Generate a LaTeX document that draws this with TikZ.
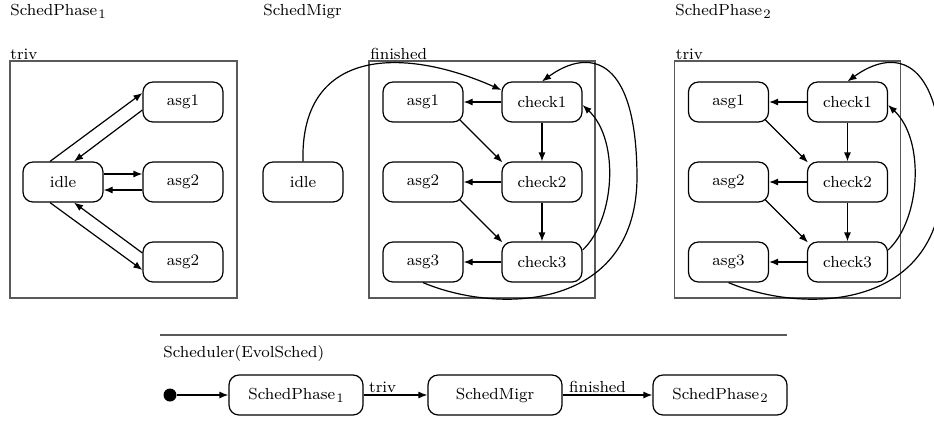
\documentclass[tikz,border=0pt]{standalone}
\usetikzlibrary{arrows.meta}
\newcommand\mysubidx[1]{\hspace{0.6pt}\raisebox{-1.6pt}{\fontsize{6.5}{7}\selectfont #1}}
\tikzset{
  st/.style={draw, rounded corners=5pt, minimum width=40pt, minimum height=20pt, line width=0.6pt, font=\fontsize{8}{9.6}\selectfont, inner sep=0pt},
  wst/.style={st, minimum width=67pt},
  arr/.style={-{Latex[length=4.5pt,width=3.5pt]}, line width=0.6pt},
  frm/.style={draw=black!65, line width=0.9pt},
  txt/.style={font=\fontsize{8}{9.6}\selectfont, inner sep=0pt, anchor=base west},
}
\begin{document}
\begin{tikzpicture}[x=0.5pt,y=-0.5pt]
\useasboundingbox (0,0) rectangle (934,420);
% titles
\node[txt] (t1) at (10,15) {SchedPhase\mysubidx{1}};
\node[txt] (t2) at (263,15) {SchedMigr};
\node[txt] (t3) at (675,15) {SchedPhase\mysubidx{2}};

% left diagram
\draw[frm] (10,61) rectangle (237,298);
\node[txt] (l-lab) at (10,59) {triv};
\node[st] (idle) at (63,182) {idle};
\node[st] (l-asg1) at (183,102) {asg1};
\node[st] (l-asg2) at (183,182) {asg2};
\node[st] (l-asg2b) at (183,262) {asg2};
\draw[arr] ([xshift=-6.5pt]idle.north) -- ([yshift=4.5pt]l-asg1.west);
\draw[arr] ([yshift=-4pt]l-asg1.west) -- ([xshift=5.5pt]idle.north);
\draw[arr] ([yshift=4pt]idle.east) -- ([yshift=4pt]l-asg2.west);
\draw[arr] ([yshift=-4pt]l-asg2.west) -- ([yshift=-4pt]idle.east);
\draw[arr] ([xshift=-6.5pt]idle.south) -- ([yshift=-4pt]l-asg2b.west);
\draw[arr] ([yshift=4.5pt]l-asg2b.west) -- ([xshift=5.5pt]idle.south);

% middle and right diagrams
\foreach \p/\s/\lab in {m/0/finished, r/305.5/triv}{
  \begin{scope}[shift={(\s,0)}]
    \draw[frm] (369,61) rectangle (595,298);
    \node[txt] (\p-lab) at (370,59) {\lab};
    \node[st] (\p-asg1) at (423,102) {asg1};
    \node[st] (\p-asg2) at (423,182) {asg2};
    \node[st] (\p-asg3) at (423,262) {asg3};
    \node[st] (\p-check1) at (542,102) {check1};
    \node[st] (\p-check2) at (542,182) {check2};
    \node[st] (\p-check3) at (542,262) {check3};
    \draw[arr] (\p-check1) -- (\p-asg1);
    \draw[arr] (\p-check2) -- (\p-asg2);
    \draw[arr] (\p-check3) -- (\p-asg3);
    \draw[arr] (\p-check1) -- (\p-check2);
    \draw[arr] (\p-check2) -- (\p-check3);
    \draw[arr] ([shift={(-2pt,1.5pt)}]\p-asg1.south east) -- ([shift={(0.5pt,-0.5pt)}]\p-check2.north west);
    \draw[arr] ([shift={(-2pt,1.5pt)}]\p-asg2.south east) -- ([shift={(0.5pt,-0.5pt)}]\p-check3.north west);
    \draw[arr] ([yshift=6pt]\p-check3.east) .. controls (615,220) and (620,140) .. ([yshift=-1.5pt]\p-check1.east);
    \draw[arr] (\p-asg3.south) .. controls (500,315) and (638,310) .. (637,175) .. controls (636,50) and (585,50) .. (\p-check1.north);
  \end{scope}
}
\node[st] (idle2) at (303,182) {idle};
\draw[arr] (idle2.north) .. controls (300,50) and (400,45) .. ([yshift=6pt]m-check1.west);

% bottom
\draw[frm, line width=0.8pt] (160,335) -- (787,335);
\node[txt] (sch) at (163,357) {Scheduler(EvolSched)};
\node[circle, fill, inner sep=0pt, minimum size=6.5pt] (init) at (170,395) {};
\node[wst] (b1) at (296,395) {SchedPhase\mysubidx{1}};
\node[wst] (b2) at (495,395) {SchedMigr};
\node[wst] (b3) at (720,395) {SchedPhase\mysubidx{2}};
\draw[arr] (init) -- (b1);
\draw[arr] (b1) -- (b2) node[txt, pos=0, xshift=2.5pt, yshift=1.5pt] {triv};
\draw[arr] (b2) -- (b3) node[txt, pos=0, xshift=3pt, yshift=1.5pt] {finished};
\end{tikzpicture}
\end{document}
